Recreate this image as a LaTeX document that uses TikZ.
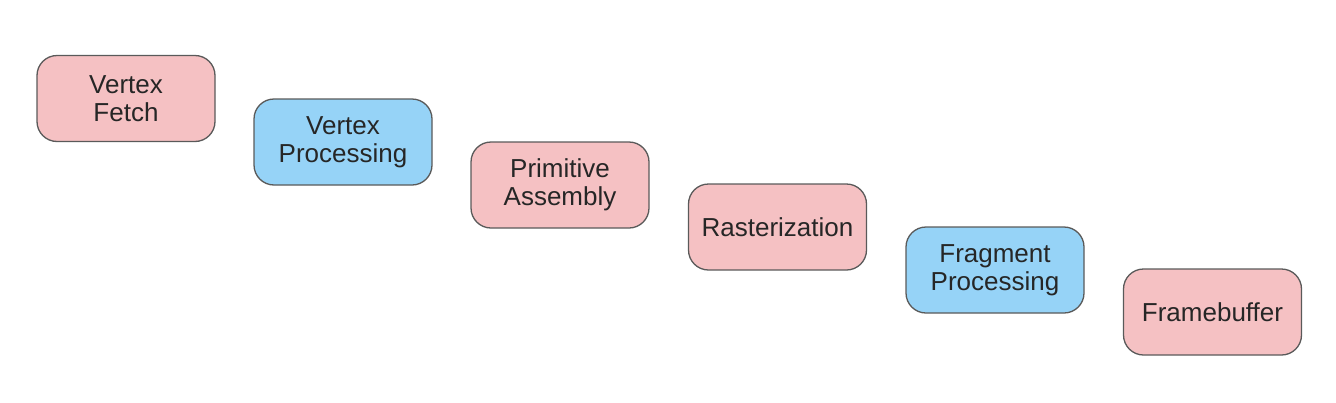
\documentclass[tikz,border=0pt]{standalone}
\usepackage{fontspec}
\setmainfont{Liberation Sans}
\definecolor{stagepink}{RGB}{245,193,195}
\definecolor{stageblue}{RGB}{150,211,247}
\definecolor{stageedge}{RGB}{90,90,90}
\begin{document}
\begin{tikzpicture}[x=1pt,y=-1pt,
  stagebox/.style={draw=stageedge, line width=1.3pt, rounded corners=20pt,
    minimum width=178pt, minimum height=86pt, align=center,
    font=\fontsize{26}{27.5}\selectfont, text=black!85, inner sep=0pt},
  pinkbox/.style={stagebox, fill=stagepink},
  bluebox/.style={stagebox, fill=stageblue}]
\useasboundingbox (0,0) rectangle (1336,402);
\node[pinkbox] (vf) at (126,98.5) {Vertex\\Fetch};
\node[bluebox] (vp) at (343,142) {Vertex\\Processing};
\node[pinkbox] (pa) at (560,185) {Primitive\\Assembly};
\node[pinkbox] (ra) at (777.5,227) {Rasterization};
\node[bluebox] (fp) at (995,270) {Fragment\\Processing};
\node[pinkbox] (fb) at (1212.5,312) {Framebuffer};
\end{tikzpicture}
\end{document}
